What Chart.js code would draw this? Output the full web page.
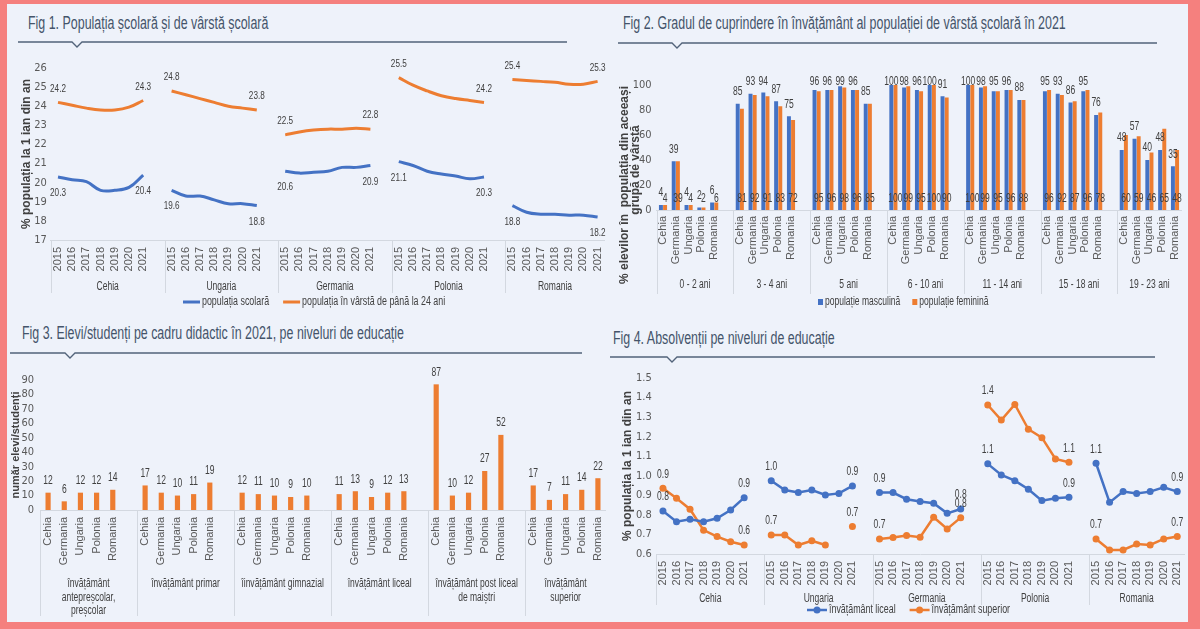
<!DOCTYPE html>
<html><head><meta charset="utf-8">
<script src="https://cdn.jsdelivr.net/npm/chart.js@4.4.0/dist/chart.umd.min.js"></script>
<style>
html,body{margin:0;padding:0;}
body{width:1200px;height:629px;background:#f5807e;position:relative;overflow:hidden;}
#panel{position:absolute;left:7px;top:4px;width:1181px;height:618px;background:#eef2fa;}
canvas.c{position:absolute;}
.title{position:absolute;font-family:'Liberation Sans',Arial,sans-serif;font-size:17.5px;line-height:20px;color:#44546a;white-space:nowrap;transform:scaleX(0.71);transform-origin:left center;}
svg.rule{position:absolute;overflow:visible;}
</style></head>
<body>
<div id="panel"></div>
<div class="title" style="left:28px;top:13px">Fig 1. Populația școlară și de vârstă școlară</div>
<div class="title" style="left:623px;top:13px">Fig 2. Gradul de cuprindere în învățământ al populației de vârstă școlară în 2021</div>
<div class="title" style="left:22px;top:323px">Fig 3. Elevi/studenți pe cadru didactic în 2021, pe niveluri de educație</div>
<div class="title" style="left:613px;top:328px">Fig 4. Absolvenții pe niveluri de educație</div>
<svg class="rule" style="left:18px;top:38px" width="550" height="10"><polyline points="0,4 54,4 59,9 64,4 549,4" fill="none" stroke="#52637a" stroke-width="1.3"/></svg>
<svg class="rule" style="left:618px;top:39px" width="540" height="10"><polyline points="0,4 54,4 59,9 64,4 539,4" fill="none" stroke="#52637a" stroke-width="1.3"/></svg>
<svg class="rule" style="left:10px;top:349px" width="573" height="10"><polyline points="0,4 55,4 60,9 65,4 572,4" fill="none" stroke="#52637a" stroke-width="1.3"/></svg>
<svg class="rule" style="left:610px;top:353px" width="546" height="10"><polyline points="0,4 57,4 62,9 67,4 545,4" fill="none" stroke="#52637a" stroke-width="1.3"/></svg>
<canvas id="c1" class="c" width="598" height="270" style="left:8px;top:44px"></canvas>
<canvas id="c2" class="c" width="582" height="270" style="left:606px;top:44px"></canvas>
<canvas id="c3" class="c" width="598" height="266" style="left:8px;top:356px"></canvas>
<canvas id="c4" class="c" width="582" height="262" style="left:606px;top:360px"></canvas>
<script>
// ---------- DATA ----------
const fig1Countries = ['Cehia', 'Ungaria', 'Germania', 'Polonia', 'Romania'];
const fig1Years = ['2015', '2016', '2017', '2018', '2019', '2020', '2021'];
const fig1Scolara = [
  [20.3, 20.15, 20.05, 19.6, 19.6, 19.75, 20.4],
  [19.6, 19.3, 19.3, 19.1, 18.9, 18.9, 18.8],
  [20.6, 20.5, 20.55, 20.6, 20.8, 20.8, 20.9],
  [21.1, 20.9, 20.6, 20.45, 20.35, 20.2, 20.3],
  [18.8, 18.45, 18.35, 18.35, 18.3, 18.3, 18.2]
];
const fig1Varsta = [
  [24.2, 24.05, 23.9, 23.8, 23.8, 23.95, 24.3],
  [24.8, 24.6, 24.4, 24.2, 24.0, 23.9, 23.8],
  [22.5, 22.65, 22.75, 22.8, 22.8, 22.85, 22.8],
  [25.5, 25.1, 24.8, 24.55, 24.4, 24.3, 24.2],
  [25.4, 25.35, 25.3, 25.25, 25.15, 25.15, 25.3]
];

const fig2Groups = ['0 - 2 ani', '3 - 4 ani', '5 ani', '6 - 10 ani', '11 - 14 ani', '15 - 18 ani', '19 - 23 ani'];
const fig2Countries = ['Cehia', 'Germania', 'Ungaria', 'Polonia', 'Romania'];
const fig2Masculina = [
  [4, 39, 4, 2, 6], [85, 93, 94, 87, 75], [96, 96, 99, 96, 85], [100, 98, 96, 100, 91],
  [100, 98, 95, 96, 88], [95, 93, 86, 95, 76], [48, 57, 40, 48, 35]
];
const fig2Feminina = [
  [4, 39, 4, 2, 6], [81, 92, 91, 83, 72], [95, 96, 98, 96, 85], [100, 99, 95, 100, 90],
  [100, 99, 95, 96, 88], [96, 92, 87, 96, 78], [60, 59, 46, 65, 48]
];

const fig3Levels = [
  ['învățământ', 'antepreșcolar,', 'preșcolar'], ['învățământ primar'], ['îinvățământ gimnazial'],
  ['învățământ liceal'], ['învățământ post liceal', 'de maiștri'], ['învățământ', 'superior']
];
const fig3Countries = ['Cehia', 'Germania', 'Ungaria', 'Polonia', 'Romania'];
const fig3Values = [
  [12, 6, 12, 12, 14], [17, 12, 10, 11, 19], [12, 11, 10, 9, 10],
  [11, 13, 9, 12, 13], [87, 10, 12, 27, 52], [17, 7, 11, 14, 22]
];

const fig4Countries = ['Cehia', 'Ungaria', 'Germania', 'Polonia', 'Romania'];
const fig4Years = ['2015', '2016', '2017', '2018', '2019', '2020', '2021'];
const fig4Liceal = [
  [0.82, 0.765, 0.778, 0.765, 0.783, 0.825, 0.888],
  [0.975, 0.927, 0.914, 0.927, 0.902, 0.91, 0.948],
  [0.914, 0.914, 0.88, 0.868, 0.86, 0.808, 0.83],
  [1.061, 1.004, 0.975, 0.931, 0.873, 0.885, 0.89],
  [1.064, 0.864, 0.919, 0.91, 0.919, 0.941, 0.919]
];
const fig4Superior = [
  [0.936, 0.885, 0.829, 0.722, 0.689, 0.663, 0.646],
  [0.697, 0.697, 0.646, 0.668, 0.646, null, 0.74],
  [0.677, 0.684, 0.694, 0.686, 0.788, 0.728, 0.786],
  [1.362, 1.285, 1.365, 1.238, 1.195, 1.086, 1.069],
  [0.677, 0.621, 0.621, 0.651, 0.646, 0.677, 0.689]
];

// ---------- HELPERS ----------
const NARROW = "'DejaVu Sans Condensed','Liberation Sans',sans-serif";
const SANS = "'Liberation Sans',Arial,sans-serif";
const SQ = 0.71;
const BLUE = '#4472c4', ORANGE = '#ed7d31';

function buildLabels(nGroups, items) {
  const out = [];
  for (let g = 0; g < nGroups; g++) { items.forEach(t => out.push(t)); if (g < nGroups - 1) out.push(''); }
  return out;
}
function flatten(arrs) {
  const out = [];
  arrs.forEach((a, g) => { a.forEach(v => out.push(v)); if (g < arrs.length - 1) out.push(null); });
  return out;
}
function sqText(ctx, t, x, y) {
  ctx.save(); ctx.translate(x, y); ctx.scale(SQ, 1); ctx.fillText(t, 0, 0); ctx.restore();
}
function extras(cfg) {
  return {
    id: 'extras',
    afterDatasetsDraw(chart) {
      const ctx = chart.ctx, area = chart.chartArea;
      ctx.save();
      ctx.textAlign = 'center'; ctx.textBaseline = 'middle';
      ctx.font = cfg.labelFont; ctx.fillStyle = '#404040';
      chart.data.datasets.forEach((ds, di) => {
        const L = cfg.labels && cfg.labels[di]; if (!L) return;
        const meta = chart.getDatasetMeta(di);
        const idx = [];
        if (L.mode === 'all') ds.data.forEach((v, i) => { if (v != null) idx.push(i); });
        else {
          for (let g = 0; g < cfg.groups.length; g++) {
            const a = g * cfg.groupSize, b = Math.min(a + cfg.groupSize, ds.data.length);
            let f = -1, l = -1;
            for (let i = a; i < b; i++) if (ds.data[i] != null) { if (f < 0) f = i; l = i; }
            if (f >= 0) { idx.push(f); if (l !== f) idx.push(l); }
          }
        }
        idx.forEach(i => {
          const el = meta.data[i], v = ds.data[i];
          let y = L.pos === 'base' ? el.base - L.dy : el.y + L.dy;
          if (L.minY != null) y = Math.max(y, area.top + L.minY);
          sqText(ctx, v.toFixed(L.dec), el.x, y);
        });
      });
      ctx.restore();
    },
    afterDraw(chart) {
      const ctx = chart.ctx, area = chart.chartArea, xs = chart.scales.x;
      const s = xs.getPixelForValue(1) - xs.getPixelForValue(0);
      const G = cfg.groups.length;
      const bounds = [];
      for (let g = 0; g < G; g++) bounds.push(xs.getPixelForValue(g * cfg.groupSize) - s / 2);
      bounds.push(area.right);
      ctx.save();
      ctx.strokeStyle = '#d3d8e0'; ctx.lineWidth = 1;
      for (let g = 0; g < G; g++) {
        const bx = Math.round(bounds[g]) + 0.5;
        ctx.beginPath(); ctx.moveTo(bx, area.bottom); ctx.lineTo(bx, area.bottom + cfg.sepLen); ctx.stroke();
      }
      ctx.fillStyle = '#404040'; ctx.font = cfg.groupFont; ctx.textAlign = 'center'; ctx.textBaseline = 'middle';
      cfg.groups.forEach((name, g) => {
        const cx = (bounds[g] + bounds[g + 1]) / 2;
        const lines = Array.isArray(name) ? name : [name];
        lines.forEach((ln, i) => sqText(ctx, ln, cx, area.bottom + cfg.groupDy + i * cfg.groupLH));
      });
      if (cfg.legend) {
        const L = cfg.legend; let lx = L.x; const ly = L.y;
        chart.data.datasets.forEach(ds => {
          const col = L.type === 'square' ? ds.backgroundColor : ds.borderColor;
          if (L.type === 'square') {
            ctx.fillStyle = col; ctx.fillRect(lx, ly - 3, 5, 6); lx += 5 + L.gap;
          } else {
            ctx.strokeStyle = col; ctx.lineWidth = L.lw;
            ctx.beginPath(); ctx.moveTo(lx, ly); ctx.lineTo(lx + L.symW, ly); ctx.stroke();
            if (L.type === 'linemarker') {
              ctx.fillStyle = col; ctx.beginPath(); ctx.arc(lx + L.symW / 2, ly, 3.5, 0, Math.PI * 2); ctx.fill();
            }
            lx += L.symW + L.gap;
          }
          ctx.font = L.font; ctx.fillStyle = '#404040'; ctx.textAlign = 'left'; ctx.textBaseline = 'middle';
          sqText(ctx, ds.label, lx, ly);
          lx += ctx.measureText(ds.label).width * SQ + L.itemGap;
        });
      }
      (cfg.axisTitles || []).forEach(t => {
        ctx.save(); ctx.translate(t.x, t.y); ctx.rotate(-Math.PI / 2);
        ctx.font = t.font; ctx.fillStyle = '#404040'; ctx.textAlign = 'center'; ctx.textBaseline = 'middle';
        ctx.fillText(t.text, 0, 0); ctx.restore();
      });
      ctx.restore();
    }
  };
}
function xAxis(h, pad) {
  return {
    offset: true,
    grid: { display: false, drawTicks: false },
    border: { display: true, color: '#d3d8e0' },
    ticks: { autoSkip: false, minRotation: 90, maxRotation: 90, padding: pad, color: '#595959', font: { family: SANS, size: 11 } },
    afterFit(sc) { sc.height = h; sc.paddingLeft = 0; sc.paddingRight = 0; }
  };
}
Chart.defaults.animation = false;

// ---------- FIG 1 ----------
new Chart(document.getElementById('c1'), {
  type: 'line',
  data: {
    labels: buildLabels(fig1Countries.length, fig1Years),
    datasets: [
      { label: 'populația scolară', data: flatten(fig1Scolara), borderColor: BLUE, backgroundColor: BLUE, borderWidth: 3, pointRadius: 0, tension: 0.4, spanGaps: false },
      { label: 'populația în vârstă de până la 24 ani', data: flatten(fig1Varsta), borderColor: ORANGE, backgroundColor: ORANGE, borderWidth: 3, pointRadius: 0, tension: 0.4, spanGaps: false }
    ]
  },
  options: {
    responsive: false,
    layout: { padding: { left: 0, right: 1.3, top: 24, bottom: 18 } },
    plugins: { legend: { display: false }, tooltip: { enabled: false } },
    scales: {
      x: xAxis(56, 7),
      y: {
        min: 17, max: 26,
        ticks: { stepSize: 1, autoSkip: false, padding: 4, color: '#595959', font: { family: NARROW, size: 11 } },
        grid: { display: false, drawTicks: false }, border: { display: false },
        title: { display: true, text: '% populația la 1 ian din an', color: '#404040', font: { family: SANS, size: 12, weight: 'bold' }, padding: { top: 11, bottom: 0 } },
        afterFit(sc) { sc.width = 42.9; }
      }
    }
  },
  plugins: [extras({
    groups: fig1Countries, groupSize: 8, sepLen: 53, groupDy: 47, groupLH: 13,
    groupFont: `12px ${SANS}`, labelFont: `11.5px ${SANS}`,
    labels: [{ mode: 'ends', pos: 'pt', dy: 16, dec: 1 }, { mode: 'ends', pos: 'pt', dy: -14, dec: 1 }],
    legend: { x: 175, y: 258, type: 'line', lw: 3, symW: 17, gap: 2, itemGap: 14, font: `12.5px ${SANS}` }
  })]
});

// ---------- FIG 2 ----------
new Chart(document.getElementById('c2'), {
  type: 'bar',
  data: {
    labels: buildLabels(fig2Groups.length, fig2Countries),
    datasets: [
      { label: 'populație masculină', data: flatten(fig2Masculina), backgroundColor: BLUE, borderColor: BLUE, categoryPercentage: 0.65, barPercentage: 0.95 },
      { label: 'populație feminină', data: flatten(fig2Feminina), backgroundColor: ORANGE, borderColor: ORANGE, categoryPercentage: 0.65, barPercentage: 0.95 }
    ]
  },
  options: {
    responsive: false,
    layout: { padding: { left: 0, right: 6.6, top: 41, bottom: 20 } },
    plugins: { legend: { display: false }, tooltip: { enabled: false } },
    scales: {
      x: xAxis(84, 6),
      y: {
        min: 0, max: 100,
        ticks: { stepSize: 20, autoSkip: false, padding: 5, color: '#595959', font: { family: NARROW, size: 11 } },
        grid: { display: false, drawTicks: false }, border: { display: false },
        afterFit(sc) { sc.width = 50.6; }
      }
    }
  },
  plugins: [extras({
    groups: fig2Groups, groupSize: 6, sepLen: 84, groupDy: 75, groupLH: 13,
    groupFont: `12px ${SANS}`, labelFont: `12px ${SANS}`,
    labels: [{ mode: 'all', pos: 'pt', dy: -12, minY: -3, dec: 0 }, { mode: 'all', pos: 'base', dy: 11, dec: 0 }],
    legend: { x: 212, y: 258, type: 'square', gap: 2, itemGap: 12, font: `12px ${SANS}` },
    axisTitles: [
      { text: '% elevilor în  populația din aceeași', x: 19, y: 141, font: `bold 12px ${SANS}` },
      { text: 'grupă de vârstă', x: 30, y: 126, font: `bold 12px ${SANS}` }
    ]
  })]
});

// ---------- FIG 3 ----------
new Chart(document.getElementById('c3'), {
  type: 'bar',
  data: {
    labels: buildLabels(fig3Levels.length, fig3Countries),
    datasets: [
      { label: 'număr elevi/studenți', data: flatten(fig3Values), backgroundColor: ORANGE, borderColor: ORANGE, categoryPercentage: 1, barPercentage: 0.32 }
    ]
  },
  options: {
    responsive: false,
    layout: { padding: { left: 0, right: 0, top: 24, bottom: 6 } },
    plugins: { legend: { display: false }, tooltip: { enabled: false } },
    scales: {
      x: xAxis(106, 7),
      y: {
        min: 0, max: 90,
        ticks: { stepSize: 10, autoSkip: false, padding: 6, color: '#595959', font: { family: NARROW, size: 11 } },
        grid: { display: false, drawTicks: false }, border: { display: false },
        title: { display: true, text: 'număr elevi/studenți', color: '#404040', font: { family: SANS, size: 11, weight: 'bold' }, padding: { top: 1, bottom: 0 } },
        afterFit(sc) { sc.width = 32; }
      }
    }
  },
  plugins: [extras({
    groups: fig3Levels, groupSize: 6, sepLen: 106, groupDy: 74, groupLH: 13.5,
    groupFont: `12px ${SANS}`, labelFont: `12px ${SANS}`,
    labels: [{ mode: 'all', pos: 'pt', dy: -12, dec: 0 }]
  })]
});

// ---------- FIG 4 ----------
new Chart(document.getElementById('c4'), {
  type: 'line',
  data: {
    labels: buildLabels(fig4Countries.length, fig4Years),
    datasets: [
      { label: 'învățământ liceal', data: flatten(fig4Liceal), borderColor: BLUE, backgroundColor: BLUE, borderWidth: 2.5, pointRadius: 3.5, pointBorderWidth: 0, pointBackgroundColor: BLUE, tension: 0, spanGaps: false },
      { label: 'învățământ superior', data: flatten(fig4Superior), borderColor: ORANGE, backgroundColor: ORANGE, borderWidth: 2.5, pointRadius: 3.5, pointBorderWidth: 0, pointBackgroundColor: ORANGE, tension: 0, spanGaps: false }
    ]
  },
  options: {
    responsive: false,
    layout: { padding: { left: 0, right: 0.2, top: 18, bottom: 17 } },
    plugins: { legend: { display: false }, tooltip: { enabled: false } },
    scales: {
      x: xAxis(51, 7),
      y: {
        min: 0.6, max: 1.5,
        ticks: { stepSize: 0.1, autoSkip: false, padding: 4.5, color: '#595959', font: { family: NARROW, size: 11 }, callback: v => Number(v).toFixed(1) },
        grid: { display: false, drawTicks: false }, border: { display: false },
        title: { display: true, text: '% populația la 1 ian din an', color: '#404040', font: { family: SANS, size: 12, weight: 'bold' }, padding: { top: 14.8, bottom: 0 } },
        afterFit(sc) { sc.width = 50.2; }
      }
    }
  },
  plugins: [extras({
    groups: fig4Countries, groupSize: 8, sepLen: 51, groupDy: 45, groupLH: 13,
    groupFont: `12px ${SANS}`, labelFont: `12px ${SANS}`,
    labels: [{ mode: 'ends', pos: 'pt', dy: -14, dec: 1 }, { mode: 'ends', pos: 'pt', dy: -14, dec: 1 }],
    legend: { x: 201, y: 250, type: 'linemarker', lw: 2.5, symW: 20, gap: 2, itemGap: 14, font: `12.5px ${SANS}` }
  })]
});
</script>
</body></html>
